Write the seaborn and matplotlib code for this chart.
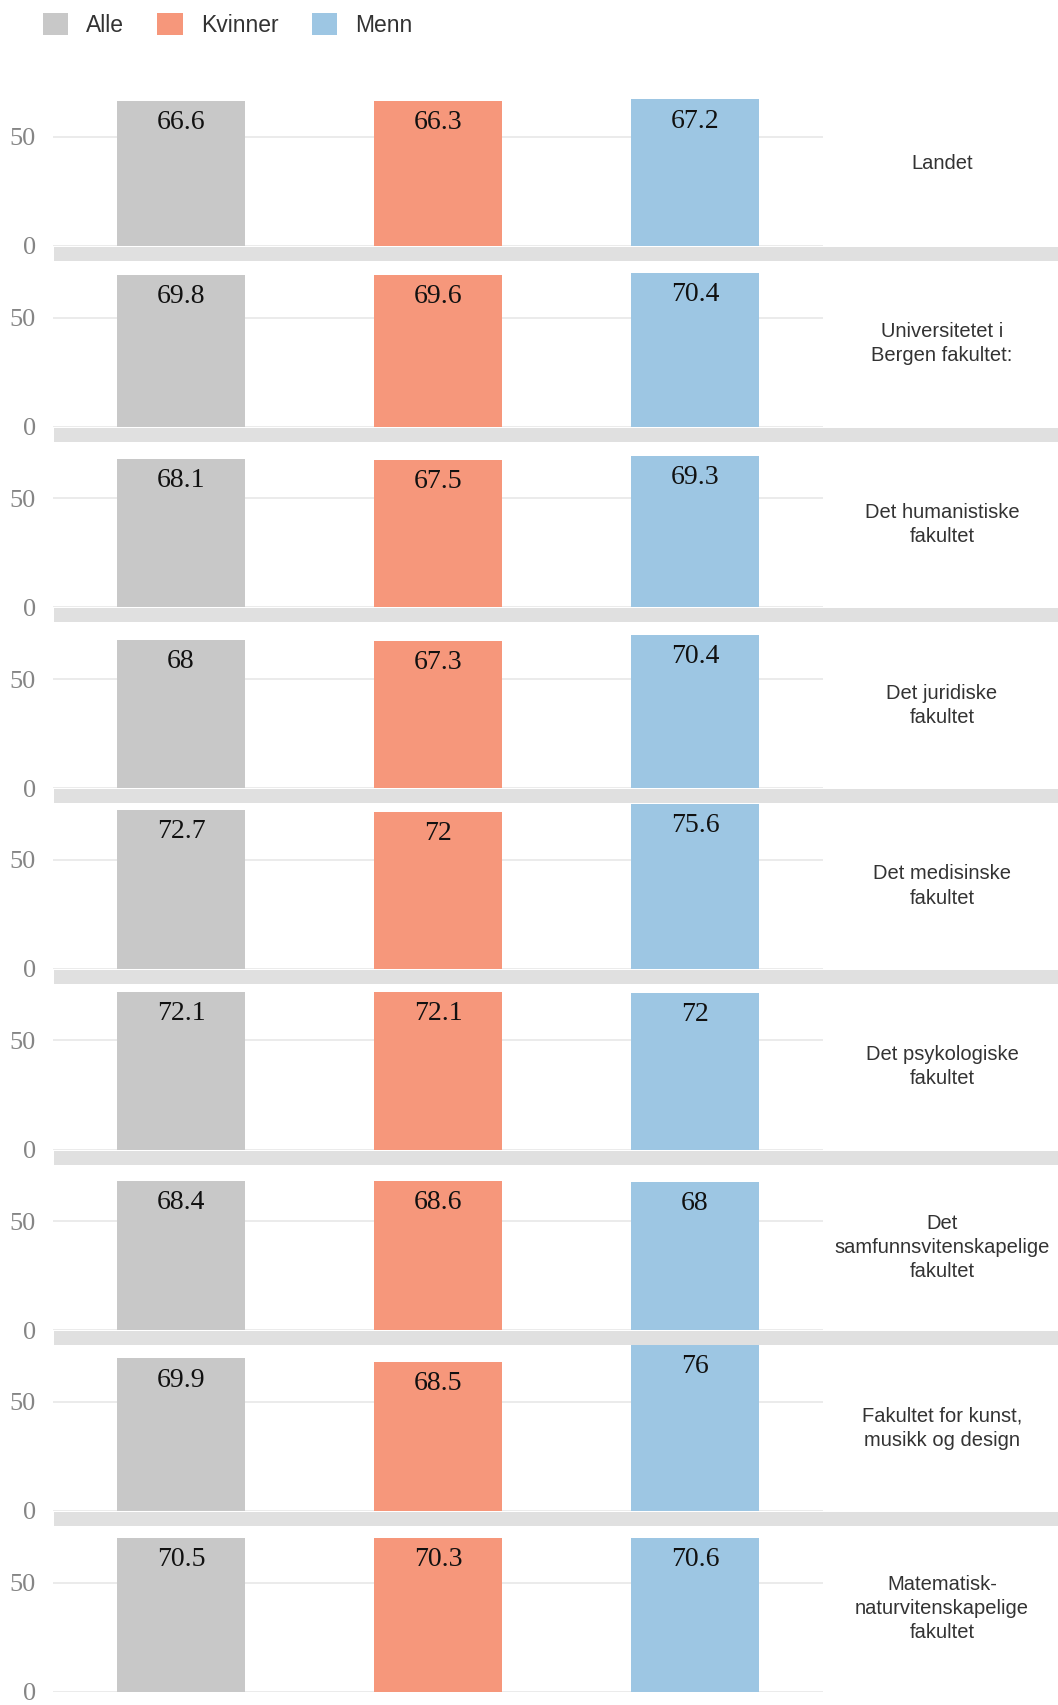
import pandas as pd
import seaborn as sns
import matplotlib.pyplot as plt
from matplotlib.patches import Rectangle

# data
fakulteter = [
    "Landet",
    "Universitetet i\nBergen fakultet:",
    "Det humanistiske\nfakultet",
    "Det juridiske\nfakultet",
    "Det medisinske\nfakultet",
    "Det psykologiske\nfakultet",
    "Det\nsamfunnsvitenskapelige\nfakultet",
    "Fakultet for kunst,\nmusikk og design",
    "Matematisk-\nnaturvitenskapelige\nfakultet",
]
grupper = ["Alle", "Kvinner", "Menn"]
alle = [66.6, 69.8, 68.1, 68.0, 72.7, 72.1, 68.4, 69.9, 70.5]
kvinner = [66.3, 69.6, 67.5, 67.3, 72.0, 72.1, 68.6, 68.5, 70.3]
menn = [67.2, 70.4, 69.3, 70.4, 75.6, 72.0, 68.0, 76.0, 70.6]

farger = {"Alle": "#c8c8c8", "Kvinner": "#f6977b", "Menn": "#9dc6e3"}

rows = []
for i, fak in enumerate(fakulteter):
    for g, vals in zip(grupper, [alle, kvinner, menn]):
        rows.append({"fakultet": fak, "gruppe": g, "verdi": vals[i]})
df = pd.DataFrame(rows)

sns.set_style("white")
plt.rcParams["font.family"] = ["Liberation Sans", "DejaVu Sans"]

W, H = 1058, 1705
fig = plt.figure(figsize=(W / 100, H / 100), dpi=100)

step = 180.7
panel_h = 165.7
left, right = 52.5, 823.5

handles = None
for i, fak in enumerate(fakulteter):
    zero = 246 + step * i
    ax = fig.add_axes([left / W, 1 - zero / H, (right - left) / W, panel_h / H])
    sub = df[df["fakultet"] == fak]
    sns.barplot(data=sub, x="gruppe", y="verdi", hue="gruppe", palette=farger,
                order=grupper, hue_order=grupper, width=0.5, saturation=1,
                linewidth=0, legend=(i == 0), ax=ax, zorder=3)
    if i == 0:
        handles, labels = ax.get_legend_handles_labels()
        ax.get_legend().remove()

    # value labels inside the bars
    for c in ax.containers:
        for bar in c:
            v = bar.get_height()
            txt = f"{v:.1f}".rstrip("0").rstrip(".")
            ax.annotate(txt, (bar.get_x() + bar.get_width() / 2, v),
                        xytext=(0, -6.5), textcoords="offset points",
                        ha="center", va="top", fontsize=20,
                        family=["Liberation Serif"], color="#111111", zorder=4)

    ax.set_xlim(-0.5, 2.5)
    ax.set_ylim(0, 76)
    ax.set_yticks([0, 50])
    ax.set_xticks([])
    ax.set_xlabel("")
    ax.set_ylabel("")
    ax.grid(axis="y", color="#e8e8e8", lw=1.2, zorder=0)
    ax.tick_params(axis="y", length=0, pad=12, labelsize=19, labelcolor="#858585")
    for lab in ax.get_yticklabels():
        lab.set_family(["Liberation Serif"])
    sns.despine(ax=ax, left=True, bottom=True)

    # facet label on the right
    fig.text(942 / W, 1 - (zero - panel_h / 2) / H, fak, ha="center", va="center",
             fontsize=14.5, color="#333333", linespacing=1.35)

    # grey band below each panel except the last
    if i < len(fakulteter) - 1:
        fig.add_artist(Rectangle((54 / W, 1 - (zero + 15) / H), (W - 54) / W, 14 / H,
                                 transform=fig.transFigure, color="#e0e0e0", lw=0))

fig.legend(handles, labels, loc="center left", bbox_to_anchor=(22 / W, 1 - 25 / H),
           ncol=3, frameon=False, fontsize=16.5, handlelength=1.1, handleheight=1.1,
           handletextpad=0.8, columnspacing=1.45, labelcolor="#333333")

plt.savefig("out.png", dpi=100)
plt.close()
